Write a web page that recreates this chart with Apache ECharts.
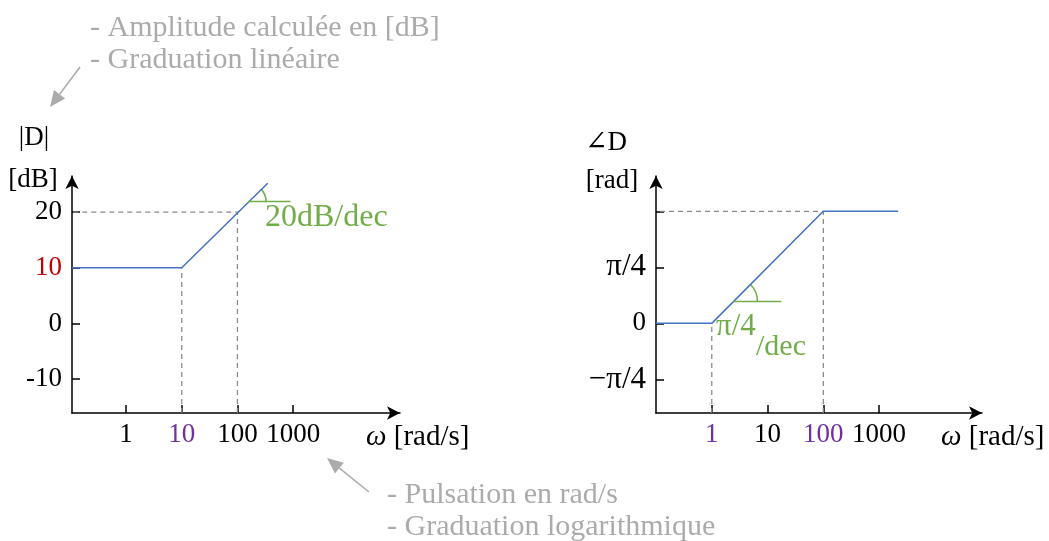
<!DOCTYPE html>
<html>
<head>
<meta charset="utf-8">
<script src="https://cdn.jsdelivr.net/npm/echarts@6/dist/echarts.min.js"></script>
<style>
  html, body { margin: 0; padding: 0; background: #fff; }
  #main { width: 1049px; height: 541px; }
</style>
</head>
<body>
<div id="main"></div>
<script>
// --- gain plot (asymptotic), x in rad/s, y in dB
var gainW = [0.107, 10, 350];
var gainDb = [10, 10, 25.2];
var gainXTicks = [1, 10, 100, 1000];
var gainYTicks = [-10, 0, 10, 20];
var gainSlope = [[155, 21.9], [900, 21.9]];   // green reference line

// --- phase plot, y in units of pi/4
var phaseW = [0.1, 1, 100, 2200];
var phaseQ = [0, 0, 2, 2];
var phaseXTicks = [1, 10, 100, 1000];
var phaseYTicks = [-1, 0, 1, 2];
var phaseYLabels = [-1, 0, 1];
var phaseSlope = [[2.45, 0.39], [17.7, 0.39]];

var FONT = '"Liberation Serif", "DejaVu Serif", serif';
var BLUE = '#4472c4', GREEN = '#70ad47', DASH = '#8a8a8a', NOTE = '#ababab';
var RED = '#c00000', PURPLE = '#7030a0';

var chart = echarts.init(document.getElementById('main'));

function zip(a, b) {
  return a.map(function (v, i) { return [v, b[i]]; });
}

function xAxis(grid, min, max, ticks, purple) {
  return {
    type: 'log', logBase: 10, gridIndex: grid, min: min, max: max,
    axisLine: { show: true, onZero: false, symbol: ['none', 'arrow'], symbolSize: [10, 13],
      lineStyle: { color: '#000', width: 1.5 } },
    axisTick: { show: true, inside: true, length: 8, customValues: ticks,
      lineStyle: { color: '#000', width: 1.5 } },
    minorTick: { show: false },
    splitLine: { show: false },
    axisLabel: {
      customValues: ticks, margin: 8, fontSize: 27, fontFamily: FONT,
      formatter: function (v) { return String(Math.round(v)); },
      color: function (v) { return purple.indexOf(Math.round(Number(v))) >= 0 ? PURPLE : '#000'; }
    }
  };
}

function yAxis(grid, min, max, ticks, labels, fmt, red) {
  return {
    type: 'value', gridIndex: grid, min: min, max: max,
    axisLine: { show: true, onZero: false, symbol: ['none', 'arrow'], symbolSize: [10, 13],
      lineStyle: { color: '#000', width: 1.5 } },
    axisTick: { show: true, inside: true, length: 8, customValues: ticks,
      lineStyle: { color: '#000', width: 1.5 } },
    splitLine: { show: false },
    axisLabel: {
      customValues: labels, margin: 10, fontSize: 27, fontFamily: FONT,
      formatter: fmt,
      rich: { pi: { fontSize: 31, fontFamily: FONT, color: '#000' } },
      color: function (v) { return red.indexOf(Number(v)) >= 0 ? RED : '#000'; }
    }
  };
}

function dashed(x, y, data) {
  return {
    type: 'line', xAxisIndex: x, yAxisIndex: y, data: data, symbol: 'none', silent: true,
    lineStyle: { color: DASH, width: 1.3, type: [5, 4] }, z: 1
  };
}

function plain(x, y, data, color) {
  return {
    type: 'line', xAxisIndex: x, yAxisIndex: y, data: data, symbol: 'none', silent: true,
    lineStyle: { color: color, width: 1.5 }, z: 3
  };
}

var gMin = gainYTicks[0] - 6.1, gMax = 26.5;
var pMin = -1.6, pMax = 2.63;

var option = {
  animation: false,
  grid: [
    { left: 72, top: 176, width: 328, height: 237 },
    { left: 656, top: 176, width: 326, height: 237 }
  ],
  xAxis: [
    xAxis(0, 0.107, 83000, gainXTicks, [10]),
    xAxis(1, 0.1, 70000, phaseXTicks, [1, 100])
  ],
  yAxis: [
    yAxis(0, gMin, gMax, gainYTicks, gainYTicks, function (v) { return String(v); }, [10]),
    yAxis(1, pMin, pMax, phaseYTicks, phaseYLabels, function (v) {
      if (v === 0) return '0';
      return v > 0 ? '{pi|π/4}' : '{pi|−π/4}';
    }, [])
  ],
  series: [
    dashed(0, 0, [[10, gMin], [10, 10]]),
    dashed(0, 0, [[100, gMin], [100, 20], [0.107, 20]]),
    dashed(1, 1, [[1, pMin], [1, 0]]),
    dashed(1, 1, [[100, pMin], [100, 2], [0.1, 2]]),
    plain(0, 0, zip(gainW, gainDb), BLUE),
    plain(1, 1, zip(phaseW, phaseQ), BLUE),
    plain(0, 0, gainSlope, GREEN),
    plain(1, 1, phaseSlope, GREEN)
  ]
};
chart.setOption(option);

function txt(x, y, s, color, align, size) {
  return {
    type: 'text', x: x, y: y, silent: true,
    style: { text: s, fill: color || '#000', font: (size || 27) + 'px ' + FONT,
      textAlign: align || 'left', textVerticalAlign: 'middle' }
  };
}

function omega(x, y) {
  return {
    type: 'text', x: x, y: y, silent: true,
    style: { text: '{w|ω} [rad/s]', fill: '#000', font: '29px ' + FONT,
      textAlign: 'left', textVerticalAlign: 'middle',
      rich: { w: { fontStyle: 'italic', fontSize: 29, fontFamily: FONT } } }
  };
}

function arrow(x1, y1, x2, y2) {
  var a = Math.atan2(y2 - y1, x2 - x1), L = 16, W = 7;
  var bx = x2 - L * Math.cos(a), by = y2 - L * Math.sin(a);
  var nx = -Math.sin(a) * W, ny = Math.cos(a) * W;
  return [
    { type: 'line', silent: true, shape: { x1: x1, y1: y1, x2: bx, y2: by },
      style: { stroke: NOTE, lineWidth: 1.5 } },
    { type: 'polygon', silent: true, shape: { points: [[x2, y2], [bx + nx, by + ny], [bx - nx, by - ny]] },
      style: { fill: NOTE } }
  ];
}

function angleArc(grid, pt, r) {
  var p = chart.convertToPixel({ gridIndex: grid }, pt);
  return { type: 'arc', silent: true,
    shape: { cx: p[0], cy: p[1], r: r, startAngle: -Math.PI / 4, endAngle: 0, clockwise: true },
    style: { stroke: GREEN, lineWidth: 1.5, fill: 'none' } };
}

var g = [
  txt(34, 138, '|D|', '#000', 'center'),
  txt(33, 180, '[dB]', '#000', 'center'),
  txt(585, 143, '∠D'),
  txt(612, 181, '[rad]', '#000', 'center'),
  omega(366, 437),
  omega(941, 437),
  txt(265, 218, '20dB/dec', GREEN, 'left', 32),
  txt(716, 327, 'π/4', GREEN, 'left', 31),
  txt(756, 347, '/dec', GREEN, 'left', 30),
  txt(90, 28, '- Amplitude calculée en [dB]', NOTE, 'left', 30),
  txt(90, 60, '- Graduation linéaire', NOTE, 'left', 30),
  txt(387, 495, '- Pulsation en rad/s', NOTE, 'left', 30),
  txt(387, 527, '- Graduation logarithmique', NOTE, 'left', 30),
  angleArc(0, gainSlope[0], 18),
  angleArc(1, phaseSlope[0], 24)
].concat(arrow(80, 67, 50, 107), arrow(369, 492, 327, 458));

chart.setOption({ graphic: g });
</script>
</body>
</html>
